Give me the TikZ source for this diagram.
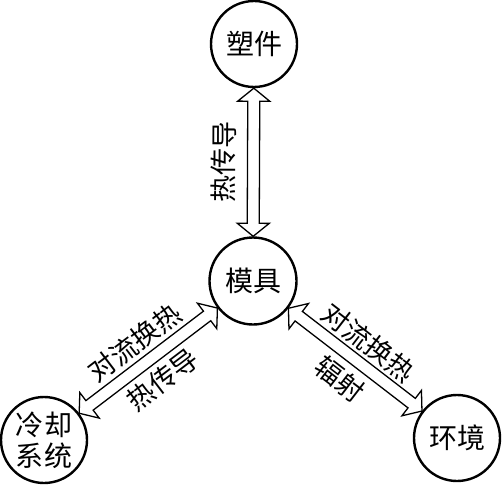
\documentclass[tikz,border=0pt]{standalone}
\usepackage{fontspec}
\setmainfont{Noto Sans CJK SC}
\usetikzlibrary{calc}
\tikzset{
  ball/.style={circle, draw, line width=2.4pt, minimum size=86pt, inner sep=0pt,
    font=\fontsize{28}{31}\selectfont, align=center},
  lbl/.style={font=\fontsize{27}{29}\selectfont, inner sep=0pt, sloped, midway},
  blk/.style={draw, line width=1.3pt, fill=white, line join=miter}
}
\newcommand\blockarrow[2]{%
  \path (#1) -- (#2) coordinate[pos=0] (ta) coordinate[pos=1] (tb);
  \coordinate (sa) at ($(ta)!13pt!(tb)$);
  \coordinate (sb) at ($(tb)!13pt!(ta)$);
  \draw[blk] (ta) -- ($(sa)!16pt!90:(tb)$) -- ($(sa)!6pt!90:(tb)$)
    -- ($(sb)!6pt!-90:(ta)$) -- ($(sb)!16pt!-90:(ta)$) -- (tb)
    -- ($(sb)!16pt!90:(ta)$) -- ($(sb)!6pt!90:(ta)$)
    -- ($(sa)!6pt!-90:(tb)$) -- ($(sa)!16pt!-90:(tb)$) -- cycle;
}
\begin{document}
\begin{tikzpicture}[x=1pt, y=-1pt]
  \useasboundingbox (0,0) rectangle (502,484);
  \node[ball] (s) at (254,44) {塑件};
  \node[ball, minimum size=87pt] (m) at (253,281) {模具};
  \node[ball] (c) at (44,440) {冷却\\系统};
  \node[ball] (e) at (457,438) {环境};
  \blockarrow{m}{s}
  \blockarrow{c}{m}
  \blockarrow{m}{e}
  \path (m) -- (s) node[lbl, above=17pt] {热传导};
  \path (c) -- (m) node[lbl, above=10pt] {对流换热} node[lbl, below=11pt] {热传导};
  \path (m) -- (e) node[lbl, above=9pt] {对流换热} node[lbl, below=12pt] {辐射};
\end{tikzpicture}
\end{document}
